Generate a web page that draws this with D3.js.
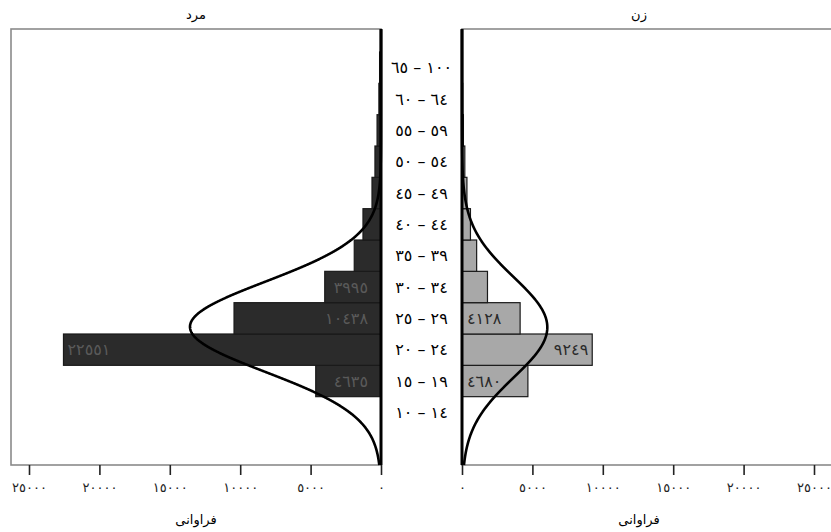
<!DOCTYPE html>
<html>
<head>
<meta charset="utf-8">
<script src="https://cdn.jsdelivr.net/npm/d3@7"></script>
<style>
  body { margin: 0; background: #fff; }
  text { font-family: "DejaVu Sans", sans-serif; }
</style>
</head>
<body>
<div id="chart"></div>
<script>
// age groups, bottom to top
let ageGroups = ["10-14", "15-19", "20-24", "25-29", "30-34", "35-39", "40-44", "45-49", "50-54", "55-59", "60-64", "65-100"];
// counts per age group
let maleCounts = [0, 4635, 22551, 10438, 3995, 1900, 1280, 640, 430, 280, 150, 100];
let femaleCounts = [0, 4680, 9249, 4128, 1810, 1040, 600, 350, 200, 100, 50, 30];
// normal curve fitted to each group: mean age, sd, n
let maleFit = [26.15, 7.19, 48900];
let femaleFit = [26.07, 8.0, 24300];
let xTicks = [0, 5000, 10000, 15000, 20000, 25000];
let panelTitles = ["مرد", "زن"];
let axisTitle = "فراوانی";
const binWidth = 5;

let width = 831, height = 532;
let plotTop = 29, plotBottom = 465;
let leftZero = 381, leftEdge = 11;
let rightZero = 462, rightEdge = 832;

const digits = "٠١٢٣٤٥٦٧٨٩";
let fa = v => String(v).replace(/[0-9]/g, c => digits[+c]);

let svg = d3.select("#chart").append("svg")
    .attr("width", width)
    .attr("height", height);

let maxX = (leftZero - leftEdge) / 0.01408;
let xLeft = d3.scaleLinear().domain([0, maxX]).range([leftZero, leftEdge]);
let xRight = d3.scaleLinear().domain([0, maxX]).range([rightZero, rightEdge]);

let y = d3.scaleBand()
    .domain(ageGroups.slice().reverse())
    .range([52, 428]);
let bw = y.bandwidth();

// continuous age scale for the normal curve, lined up with the bins
let yAge = d3.scaleLinear()
    .domain([20, 25])
    .range([y("20-24") + bw, y("20-24")]);

// panel frames
svg.append("rect")
    .attr("x", leftEdge).attr("y", plotTop)
    .attr("width", leftZero - leftEdge).attr("height", plotBottom - plotTop)
    .attr("fill", "none").attr("stroke", "#8a8a8a").attr("stroke-width", 1.6);
svg.append("rect")
    .attr("x", rightZero).attr("y", plotTop)
    .attr("width", rightEdge - rightZero).attr("height", plotBottom - plotTop)
    .attr("fill", "none").attr("stroke", "#8a8a8a").attr("stroke-width", 1.6);

let sides = [
    {x: xLeft, counts: maleCounts, fit: maleFit, fill: "#2b2b2b", label: "#5a5a5a", dir: -1, title: panelTitles[0]},
    {x: xRight, counts: femaleCounts, fit: femaleFit, fill: "#a8a8a8", label: "#2a2a2a", dir: 1, title: panelTitles[1]}
];

sides.forEach(function (s) {
    let zero = s.x(0);
    let rows = ageGroups.map((a, i) => ({age: a, v: s.counts[i]}));
    let vmax = d3.max(s.counts);

    // bars
    svg.append("g").selectAll("rect")
        .data(rows.filter(d => d.v > 0))
        .enter().append("rect")
        .attr("x", d => Math.min(zero, s.x(d.v)))
        .attr("y", d => y(d.age))
        .attr("width", d => Math.abs(s.x(d.v) - zero))
        .attr("height", bw)
        .attr("fill", s.fill)
        .attr("stroke", "#1a1a1a")
        .attr("stroke-width", 1.2);

    // value labels on wide bars
    svg.append("g").selectAll("text")
        .data(rows.filter(d => Math.abs(s.x(d.v) - zero) > 45))
        .enter().append("text")
        .attr("x", d => d.v === vmax ? s.x(d.v) - s.dir * 4 : zero + s.dir * (s.dir < 0 ? 13 : 5))
        .attr("y", d => y(d.age) + bw / 2)
        .attr("dy", "0.35em")
        .attr("text-anchor", d => (d.v === vmax) === (s.dir < 0) ? "start" : "end")
        .style("unicode-bidi", "bidi-override").style("direction", "ltr")
        .attr("font-size", 16)
        .attr("fill", s.label)
        .text(d => fa(d.v));

    // fitted normal curve
    let mean = s.fit[0], sd = s.fit[1], n = s.fit[2];
    let ages = d3.range(yAge.invert(plotBottom), yAge.invert(plotTop), 0.1);
    let dens = a => n * binWidth / (sd * Math.sqrt(2 * Math.PI)) * Math.exp(-0.5 * ((a - mean) / sd) ** 2);
    svg.append("path")
        .datum(ages)
        .attr("d", d3.line().x(a => s.x(dens(a))).y(a => yAge(a)))
        .attr("fill", "none")
        .attr("stroke", "#000")
        .attr("stroke-width", 2.6);

    // zero axis line
    svg.append("line")
        .attr("x1", zero).attr("x2", zero)
        .attr("y1", plotTop).attr("y2", plotBottom)
        .attr("stroke", "#000").attr("stroke-width", 3);

    // bottom axis
    let axis = svg.append("g")
        .attr("transform", "translate(0," + plotBottom + ")")
        .call(d3.axisBottom(s.x)
            .tickValues(xTicks).tickSize(10).tickPadding(8).tickFormat(fa));
    axis.select(".domain").remove();
    axis.selectAll("line").attr("stroke", "#222").attr("stroke-width", 1.6);
    axis.selectAll("text")
        .attr("font-size", 13)
        .attr("fill", "#222")
        .style("unicode-bidi", "bidi-override").style("direction", "ltr");

    let mid = (s.x.range()[0] + s.x.range()[1]) / 2;
    svg.append("text")
        .attr("x", s.dir < 0 ? mid : mid - 8).attr("y", 19)
        .attr("text-anchor", "middle")
        .attr("font-size", 13)
        .text(s.title);
    svg.append("text")
        .attr("x", s.dir < 0 ? mid : mid - 8).attr("y", 524)
        .attr("text-anchor", "middle")
        .attr("font-size", 13)
        .text(axisTitle);
});

// age group labels in the middle
svg.append("g").selectAll("text")
    .data(ageGroups)
    .enter().append("text")
    .attr("x", (leftZero + rightZero) / 2)
    .attr("y", d => y(d) + bw / 2)
    .attr("dy", "0.35em")
    .attr("text-anchor", "middle")
    .attr("font-size", 16)
    .style("unicode-bidi", "bidi-override").style("direction", "ltr")
    .text(d => d.split("-").map(fa).join(" – "));
</script>
</body>
</html>
